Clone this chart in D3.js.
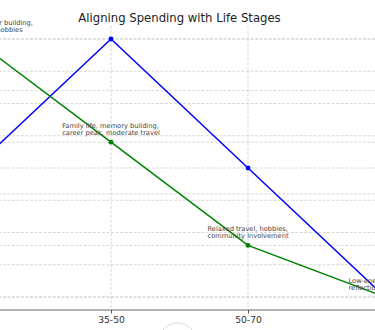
<!DOCTYPE html>
<html>
<head>
<meta charset="utf-8">
<script src="https://cdn.jsdelivr.net/npm/d3@7"></script>
<style>
  html, body { margin: 0; padding: 0; background: #fff; }
  svg { display: block; font-family: "DejaVu Sans", sans-serif; }
</style>
</head>
<body>
<svg id="chart" width="375" height="330"></svg>
<script>
// Life stages along the x axis
const stages = ["18-35", "35-50", "50-70", "70+"];
// Spending on experiences (left scale) and energy level (right scale)
const spending = [40, 80, 40, 0];
const energy = [100, 60, 20, 0];
// Tick values for the two y scales
const spendingTicks = [0, 10, 20, 30, 40, 50, 60, 70, 80];
const energyTicks = [0, 20, 40, 60, 80, 100];
// Notes for each stage
const notes = [
  ["Exploration, travel, career building,", "travel, social life, active hobbies"],
  ["Family life, memory building,", "career peak, moderate travel"],
  ["Relaxed travel, hobbies,", "community involvement"],
  ["Low-energy activities,", "reflection, simple joys"]
];

const svg = d3.select("#chart");
const W = 375, H = 330;

// Plot area (extends past the visible window on the left and right)
const plot = { left: -46.5, right: 405.5, top: 26, bottom: 310 };

const x = d3.scalePoint().domain(stages).range([-26, 385]);
const yS = d3.scaleLinear().domain([0, 80]).range([297, 39]);
const yE = d3.scaleLinear().domain([0, 100]).range([297, 39]);

svg.append("rect").attr("width", W).attr("height", H).attr("fill", "#fff");

const grid = svg.append("g").attr("fill", "none")
  .attr("stroke", "#cfcfcf").attr("stroke-width", 0.8).attr("stroke-dasharray", "3,1.5");

// Horizontal grid for both scales
grid.selectAll("line.gs").data(spendingTicks).join("line").attr("class", "gs")
  .attr("x1", plot.left).attr("x2", plot.right)
  .attr("y1", d => yS(d)).attr("y2", d => yS(d));
grid.selectAll("line.ge").data(energyTicks).join("line").attr("class", "ge")
  .attr("x1", plot.left).attr("x2", plot.right)
  .attr("y1", d => yE(d)).attr("y2", d => yE(d));
// Vertical grid at each stage
grid.selectAll("line.gx").data(stages).join("line").attr("class", "gx")
  .attr("x1", d => x(d)).attr("x2", d => x(d))
  .attr("y1", plot.top).attr("y2", plot.bottom);

// Bottom axis
const xAxis = d3.axisBottom(x).tickSize(3.5).tickPadding(2.5);
const gx = svg.append("g").attr("transform", `translate(0,${plot.bottom})`).call(xAxis);
gx.select(".domain").attr("d", `M${plot.left},0H${plot.right}`)
  .attr("stroke", "#9a9a9a").attr("stroke-width", 1.3);
gx.selectAll(".tick line").attr("stroke", "#555");
gx.selectAll(".tick text").attr("fill", "#333")
  .style("font-family", "DejaVu Sans").style("font-size", "9.17px");

// Series lines
const lineS = d3.line().x((d, i) => x(stages[i])).y(d => yS(d));
const lineE = d3.line().x((d, i) => x(stages[i])).y(d => yE(d));

svg.append("path").datum(spending).attr("d", lineS)
  .attr("fill", "none").attr("stroke", "#0000ff").attr("stroke-width", 1.5);
svg.selectAll("circle.ps").data(spending).join("circle").attr("class", "ps")
  .attr("cx", (d, i) => x(stages[i])).attr("cy", d => yS(d)).attr("r", 2.4).attr("fill", "#0000ff");

svg.append("path").datum(energy).attr("d", lineE)
  .attr("fill", "none").attr("stroke", "#008000").attr("stroke-width", 1.5);
svg.selectAll("circle.pe").data(energy).join("circle").attr("class", "pe")
  .attr("cx", (d, i) => x(stages[i])).attr("cy", d => yE(d)).attr("r", 2.4).attr("fill", "#008000");

// Stage notes, centred over the energy point, lines left-aligned
notes.forEach((lines, i) => {
  const cx = x(stages[i]);
  const cy = yE(energy[i]);
  const g = svg.append("g");
  const texts = lines.map((t, k) => g.append("text")
    .attr("y", cy - 14.5 + k * 7.3)
    .attr("fill", "#444")
    .style("font-size", "6.67px")
    .text(t));
  const maxW = d3.max(texts, t => t.node().getComputedTextLength());
  texts.forEach(t => t.attr("x", cx - maxW / 2));
});

// Title
svg.append("text")
  .attr("x", (plot.left + plot.right) / 2).attr("y", 22)
  .attr("text-anchor", "middle").attr("fill", "#222")
  .style("font-size", "11.67px")
  .text("Aligning Spending with Life Stages");

// Faint ring below the axis
svg.append("circle").attr("cx", 177.5).attr("cy", 341.5).attr("r", 18.5)
  .attr("fill", "none").attr("stroke", "#dcdcdc").attr("stroke-width", 1);
</script>
</body>
</html>
